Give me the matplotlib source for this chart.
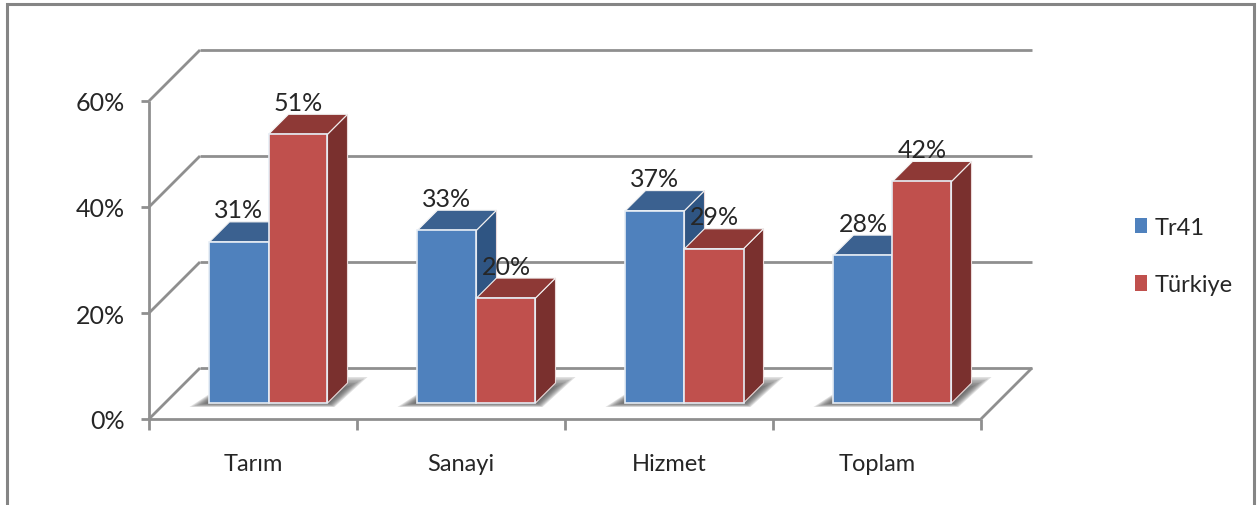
import matplotlib
matplotlib.use("Agg")
import matplotlib.pyplot as plt
from matplotlib.patches import Patch, Polygon

categories = ["Tarım", "Sanayi", "Hizmet", "Toplam"]
tr41 = [30.4, 32.6, 36.3, 27.9]
turkiye = [50.7, 19.8, 29.1, 41.8]
tr41_labels = ["31%", "33%", "37%", "28%"]
turkiye_labels = ["51%", "20%", "29%", "42%"]
y_ticks = [0, 20, 40, 60]

W, H = 1258, 506
X0, X_UNIT = 149, 208      # pixel of category 0, pixels per category
Y0, Y_UNIT = 420, 5.3      # pixel of 0%, pixels per percent
WALL = 51                  # floor depth in pixels
BAR_FRONT, BAR_DEPTH = 16, 20
BAR_W = 59 / X_UNIT
GRID = "#8f8f8f"
TEXT = "#262626"

plt.rcParams["font.family"] = ["Lato", "DejaVu Sans"]

fig = plt.figure(figsize=(W / 100, H / 100), dpi=100)
ax = fig.add_axes([0, 0, 1, 1])
ax.set_xlim(-X0 / X_UNIT, (W - X0) / X_UNIT)
ax.set_ylim((Y0 - H) / Y_UNIT, Y0 / Y_UNIT)
ax.axis("off")


def sk(x, y, depth):
    """Oblique projection: depth in pixels goes up and to the right."""
    return x + depth / X_UNIT, y + depth / Y_UNIT


def line(x, y, **kw):
    ax.plot(x, y, color=kw.pop("color", GRID), lw=kw.pop("lw", 2.0),
            solid_capstyle="butt", **kw)


def draw_bar(left, value, front, side, top):
    right = left + BAR_W
    d0, d1 = BAR_FRONT, BAR_FRONT + BAR_DEPTH
    ax.add_patch(Polygon([sk(right, 0, d0), sk(right, 0, d1), sk(right, value, d1), sk(right, value, d0)],
                         fc=side, ec="#ead9d9", lw=0.8, zorder=4))
    ax.add_patch(Polygon([sk(left, value, d0), sk(right, value, d0), sk(right, value, d1), sk(left, value, d1)],
                         fc=top, ec="#f2f2f2", lw=0.8, zorder=4))
    ax.add_patch(Polygon([sk(left, 0, d0), sk(right, 0, d0), sk(right, value, d0), sk(left, value, d0)],
                         fc=front, ec="#e6edf5", lw=1.2, zorder=4))


def draw_shadow(center):
    # soft floor shadow, built up from stacked translucent shapes
    left, right = center - BAR_W, center + BAR_W
    for i in range(8):
        g = i * 1.5
        pts = [sk(left - (20 - g * 1.6) / X_UNIT, (-4 + g * 0.35) / Y_UNIT, BAR_FRONT),
               sk(right + (7 - g * 0.5) / X_UNIT, (-4 + g * 0.35) / Y_UNIT, BAR_FRONT),
               sk(right + (14 - g) / X_UNIT, 0, 42 - g),
               sk(left, 0, 42 - g)]
        ax.add_patch(Polygon(pts, fc="#4d4d4d", ec="none", alpha=0.17, zorder=2))


# back wall, side wall and floor
n = len(categories)
for t in y_ticks:
    bx0, by = sk(0, t, WALL)
    bx1, _ = sk(n, t, WALL)
    line([bx0, bx1], [by, by], zorder=1)
    line([0, bx0], [t, by], zorder=1)
    line([-8 / X_UNIT, 0], [t, t], zorder=1)
bx, by = sk(n, 0, WALL)
line([n, bx], [0, by], zorder=1)
line([0, n], [0, 0], zorder=3)
line([0, 0], [0, y_ticks[-1]], zorder=1)
for i in range(n + 1):
    line([i, i], [0, -11 / Y_UNIT], zorder=1)

label_gap = (BAR_FRONT + 32) / Y_UNIT
for i, cat in enumerate(categories):
    c = i + 0.5 - 0.5 / X_UNIT
    draw_shadow(c)
    draw_bar(c - BAR_W, tr41[i], "#4F81BD", "#2F5583", "#3B6190")
    draw_bar(c, turkiye[i], "#C0504D", "#7A302E", "#8E3936")

    lx = sk(c - BAR_W / 2, tr41[i], BAR_FRONT)[0]
    ax.text(lx, tr41[i] + label_gap, tr41_labels[i], ha="center", va="center",
            fontsize=18, color=TEXT, zorder=6)
    lx = sk(c + BAR_W / 2, turkiye[i], BAR_FRONT)[0]
    ax.text(lx, turkiye[i] + label_gap, turkiye_labels[i], ha="center", va="center",
            fontsize=18, color=TEXT, zorder=6)
    ax.text(i + 0.5, -45 / Y_UNIT, cat, ha="center", va="center",
            fontsize=17, color=TEXT)

for t in y_ticks:
    ax.text(-24 / X_UNIT, t - 2 / Y_UNIT, f"{t}%", ha="right", va="center", fontsize=18, color=TEXT)

# outer frame, open at the bottom
fx0, fx1 = (7 - X0) / X_UNIT, (1254 - X0) / X_UNIT
fy0, fy1 = (Y0 - H) / Y_UNIT, (Y0 - 5) / Y_UNIT
ax.plot([fx0, fx0, fx1, fx1], [fy0, fy1, fy1, fy0], color="#858585", lw=2.2, solid_joinstyle="miter")

handles = [Patch(fc="#4F81BD", ec="none", label="Tr41"),
           Patch(fc="#C0504D", ec="none", label="Türkiye")]
fig.legend(handles=handles, loc="center left", bbox_to_anchor=(1135 / W, 1 - 257 / H),
           frameon=False, fontsize=17, handlelength=0.51, handleheight=0.64,
           handletextpad=0.34, labelspacing=1.55, borderpad=0, borderaxespad=0,
           labelcolor=TEXT)

fig.savefig("out.png", dpi=100)
